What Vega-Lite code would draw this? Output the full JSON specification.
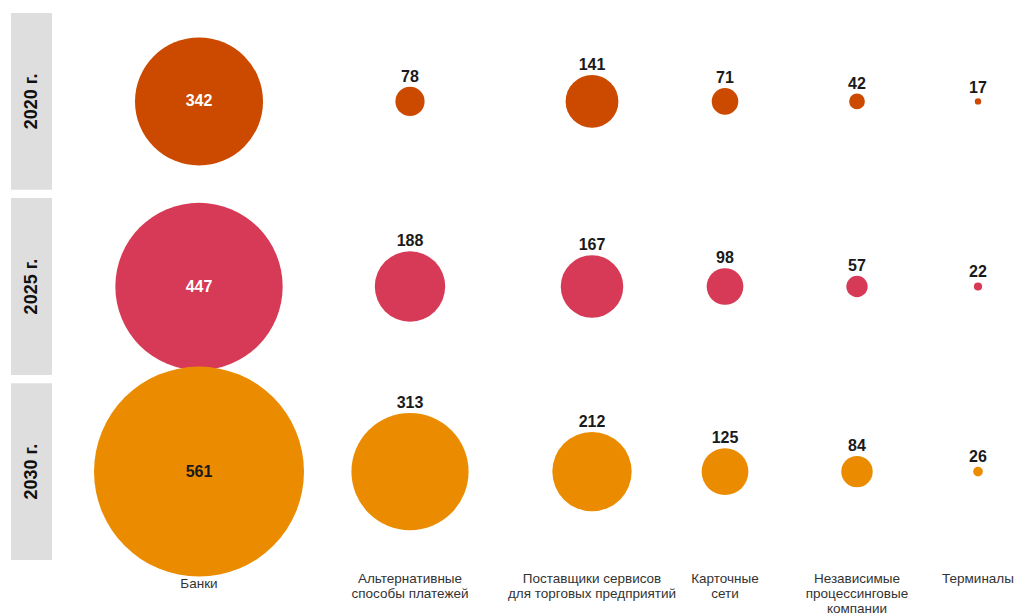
{
  "$schema": "https://vega.github.io/schema/vega-lite/v6.json",
  "padding": {"left": 11, "top": 12, "right": 0, "bottom": 0},
  "background": "white",
  "bounds": "flush",
  "spacing": 0,
  "resolve": {"scale": {"y": "independent"}},
  "config": {
    "view": {"stroke": null},
    "font": "Liberation Sans",
    "title": {"orient": "bottom", "anchor": "middle", "frame": "group", "fontSize": 13.5, "fontWeight": "normal",
              "color": "#333333", "offset": 12, "baseline": "top", "lineHeight": 15, "limit": 0}
  },
  "datasets": {
    "years": [{"year": "2020 г."}, {"year": "2025 г."}, {"year": "2030 г."}],
    "vals": [
      {"year": "2020 г.", "category": "Банки", "value": 342},
      {"year": "2020 г.", "category": "Альтернативные способы платежей", "value": 78},
      {"year": "2020 г.", "category": "Поставщики сервисов для торговых предприятий", "value": 141},
      {"year": "2020 г.", "category": "Карточные сети", "value": 71},
      {"year": "2020 г.", "category": "Независимые процессинговые компании", "value": 42},
      {"year": "2020 г.", "category": "Терминалы", "value": 17},
      {"year": "2025 г.", "category": "Банки", "value": 447},
      {"year": "2025 г.", "category": "Альтернативные способы платежей", "value": 188},
      {"year": "2025 г.", "category": "Поставщики сервисов для торговых предприятий", "value": 167},
      {"year": "2025 г.", "category": "Карточные сети", "value": 98},
      {"year": "2025 г.", "category": "Независимые процессинговые компании", "value": 57},
      {"year": "2025 г.", "category": "Терминалы", "value": 22},
      {"year": "2030 г.", "category": "Банки", "value": 561},
      {"year": "2030 г.", "category": "Альтернативные способы платежей", "value": 313},
      {"year": "2030 г.", "category": "Поставщики сервисов для торговых предприятий", "value": 212},
      {"year": "2030 г.", "category": "Карточные сети", "value": 125},
      {"year": "2030 г.", "category": "Независимые процессинговые компании", "value": 84},
      {"year": "2030 г.", "category": "Терминалы", "value": 26}
    ]
  },
  "data": {"name": "vals"},
  "hconcat": [
    {
      "width": 41,
      "height": 547,
      "data": {"name": "years"},
      "encoding": {
        "y": {"field": "year", "type": "nominal", "axis": null, "sort": null,
              "scale": {"type": "band", "domain": ["2020 г.", "2025 г.", "2030 г."], "paddingInner": 0.045, "paddingOuter": 0}}
      },
      "layer": [
        {"mark": {"type": "point", "shape": "M-0.2319,-1H0.2319V1H-0.2319Z", "size": 31258, "filled": true,
                  "color": "#dedede", "opacity": 1, "strokeWidth": 0}},
        {"mark": {"type": "text", "angle": 270, "fontWeight": "bold", "fontSize": 18, "color": "#111111"},
         "encoding": {"text": {"field": "year"}}}
      ]
    },
    {
      "width": 294,
      "height": 547,
      "title": {"text": "Банки", "offset": 0},
      "transform": [{"filter": "datum.category == 'Банки'"}],
      "encoding": {
        "y": {"field": "year", "type": "nominal", "axis": null, "sort": null,
              "scale": {"type": "band", "domain": ["2020 г.", "2025 г.", "2030 г."], "paddingInner": 0.045, "paddingOuter": 0}}
      },
      "layer": [
        {
          "mark": {"type": "circle", "opacity": 1},
          "encoding": {
            "size": {"field": "value", "type": "quantitative", "legend": null,
                     "scale": {"type": "pow", "exponent": 2, "domain": [0, 561], "nice": false, "range": [0, 44100]}},
            "color": {"field": "year", "type": "nominal", "legend": null,
                      "scale": {"domain": ["2020 г.", "2025 г.", "2030 г."], "range": ["#cc4a00", "#d63a56", "#eb8c00"]}}
          }
        },
        {
          "mark": {"type": "text", "fontWeight": "bold", "fontSize": 16, "baseline": "middle"},
          "encoding": {
            "text": {"field": "value", "type": "quantitative"},
            "color": {"condition": {"test": "datum.value < 500", "value": "#ffffff"}, "value": "#1a1a1a"}
          }
        }
      ]
    },
    {
      "width": 128,
      "height": 547,
      "title": {"text": ["Альтернативные", "способы платежей"]},
      "transform": [{"filter": "datum.category == 'Альтернативные способы платежей'"}],
      "encoding": {
        "y": {"field": "year", "type": "nominal", "axis": null, "sort": null,
              "scale": {"type": "band", "domain": ["2020 г.", "2025 г.", "2030 г."], "paddingInner": 0.045, "paddingOuter": 0}}
      },
      "layer": [
        {
          "mark": {"type": "circle", "opacity": 1},
          "encoding": {
            "size": {"field": "value", "type": "quantitative", "legend": null,
                     "scale": {"type": "pow", "exponent": 2, "domain": [0, 561], "nice": false, "range": [0, 44100]}},
            "color": {"field": "year", "type": "nominal", "legend": null,
                      "scale": {"domain": ["2020 г.", "2025 г.", "2030 г."], "range": ["#cc4a00", "#d63a56", "#eb8c00"]}}
          }
        },
        {
          "mark": {"type": "text", "fontWeight": "bold", "fontSize": 16, "baseline": "alphabetic", "dy": -5, "color": "#1a1a1a"},
          "encoding": {
            "text": {"field": "value", "type": "quantitative"},
            "yOffset": {"field": "value", "type": "quantitative", "scale": {"domain": [0, 561], "nice": false, "range": [88.39, -16.61]}}
          }
        }
      ]
    },
    {
      "width": 236,
      "height": 547,
      "title": {"text": ["Поставщики сервисов", "для торговых предприятий"]},
      "transform": [{"filter": "datum.category == 'Поставщики сервисов для торговых предприятий'"}],
      "encoding": {
        "y": {"field": "year", "type": "nominal", "axis": null, "sort": null,
              "scale": {"type": "band", "domain": ["2020 г.", "2025 г.", "2030 г."], "paddingInner": 0.045, "paddingOuter": 0}}
      },
      "layer": [
        {
          "mark": {"type": "circle", "opacity": 1},
          "encoding": {
            "size": {"field": "value", "type": "quantitative", "legend": null,
                     "scale": {"type": "pow", "exponent": 2, "domain": [0, 561], "nice": false, "range": [0, 44100]}},
            "color": {"field": "year", "type": "nominal", "legend": null,
                      "scale": {"domain": ["2020 г.", "2025 г.", "2030 г."], "range": ["#cc4a00", "#d63a56", "#eb8c00"]}}
          }
        },
        {
          "mark": {"type": "text", "fontWeight": "bold", "fontSize": 16, "baseline": "alphabetic", "dy": -5, "color": "#1a1a1a"},
          "encoding": {
            "text": {"field": "value", "type": "quantitative"},
            "yOffset": {"field": "value", "type": "quantitative", "scale": {"domain": [0, 561], "nice": false, "range": [88.39, -16.61]}}
          }
        }
      ]
    },
    {
      "width": 30,
      "height": 547,
      "title": {"text": ["Карточные", "сети"]},
      "transform": [{"filter": "datum.category == 'Карточные сети'"}],
      "encoding": {
        "y": {"field": "year", "type": "nominal", "axis": null, "sort": null,
              "scale": {"type": "band", "domain": ["2020 г.", "2025 г.", "2030 г."], "paddingInner": 0.045, "paddingOuter": 0}}
      },
      "layer": [
        {
          "mark": {"type": "circle", "opacity": 1},
          "encoding": {
            "size": {"field": "value", "type": "quantitative", "legend": null,
                     "scale": {"type": "pow", "exponent": 2, "domain": [0, 561], "nice": false, "range": [0, 44100]}},
            "color": {"field": "year", "type": "nominal", "legend": null,
                      "scale": {"domain": ["2020 г.", "2025 г.", "2030 г."], "range": ["#cc4a00", "#d63a56", "#eb8c00"]}}
          }
        },
        {
          "mark": {"type": "text", "fontWeight": "bold", "fontSize": 16, "baseline": "alphabetic", "dy": -5, "color": "#1a1a1a"},
          "encoding": {
            "text": {"field": "value", "type": "quantitative"},
            "yOffset": {"field": "value", "type": "quantitative", "scale": {"domain": [0, 561], "nice": false, "range": [88.39, -16.61]}}
          }
        }
      ]
    },
    {
      "width": 234,
      "height": 547,
      "title": {"text": ["Независимые", "процессинговые", "компании"]},
      "transform": [{"filter": "datum.category == 'Независимые процессинговые компании'"}],
      "encoding": {
        "y": {"field": "year", "type": "nominal", "axis": null, "sort": null,
              "scale": {"type": "band", "domain": ["2020 г.", "2025 г.", "2030 г."], "paddingInner": 0.045, "paddingOuter": 0}}
      },
      "layer": [
        {
          "mark": {"type": "circle", "opacity": 1},
          "encoding": {
            "size": {"field": "value", "type": "quantitative", "legend": null,
                     "scale": {"type": "pow", "exponent": 2, "domain": [0, 561], "nice": false, "range": [0, 44100]}},
            "color": {"field": "year", "type": "nominal", "legend": null,
                      "scale": {"domain": ["2020 г.", "2025 г.", "2030 г."], "range": ["#cc4a00", "#d63a56", "#eb8c00"]}}
          }
        },
        {
          "mark": {"type": "text", "fontWeight": "bold", "fontSize": 16, "baseline": "alphabetic", "dy": -5, "color": "#1a1a1a"},
          "encoding": {
            "text": {"field": "value", "type": "quantitative"},
            "yOffset": {"field": "value", "type": "quantitative", "scale": {"domain": [0, 561], "nice": false, "range": [88.39, -16.61]}}
          }
        }
      ]
    },
    {
      "width": 8,
      "height": 547,
      "title": {"text": "Терминалы"},
      "transform": [{"filter": "datum.category == 'Терминалы'"}],
      "encoding": {
        "y": {"field": "year", "type": "nominal", "axis": null, "sort": null,
              "scale": {"type": "band", "domain": ["2020 г.", "2025 г.", "2030 г."], "paddingInner": 0.045, "paddingOuter": 0}}
      },
      "layer": [
        {
          "mark": {"type": "circle", "opacity": 1},
          "encoding": {
            "size": {"field": "value", "type": "quantitative", "legend": null,
                     "scale": {"type": "pow", "exponent": 2, "domain": [0, 561], "nice": false, "range": [0, 44100]}},
            "color": {"field": "year", "type": "nominal", "legend": null,
                      "scale": {"domain": ["2020 г.", "2025 г.", "2030 г."], "range": ["#cc4a00", "#d63a56", "#eb8c00"]}}
          }
        },
        {
          "mark": {"type": "text", "fontWeight": "bold", "fontSize": 16, "baseline": "alphabetic", "dy": -5, "color": "#1a1a1a"},
          "encoding": {
            "text": {"field": "value", "type": "quantitative"},
            "yOffset": {"field": "value", "type": "quantitative", "scale": {"domain": [0, 561], "nice": false, "range": [88.39, -16.61]}}
          }
        }
      ]
    }
  ]
}
